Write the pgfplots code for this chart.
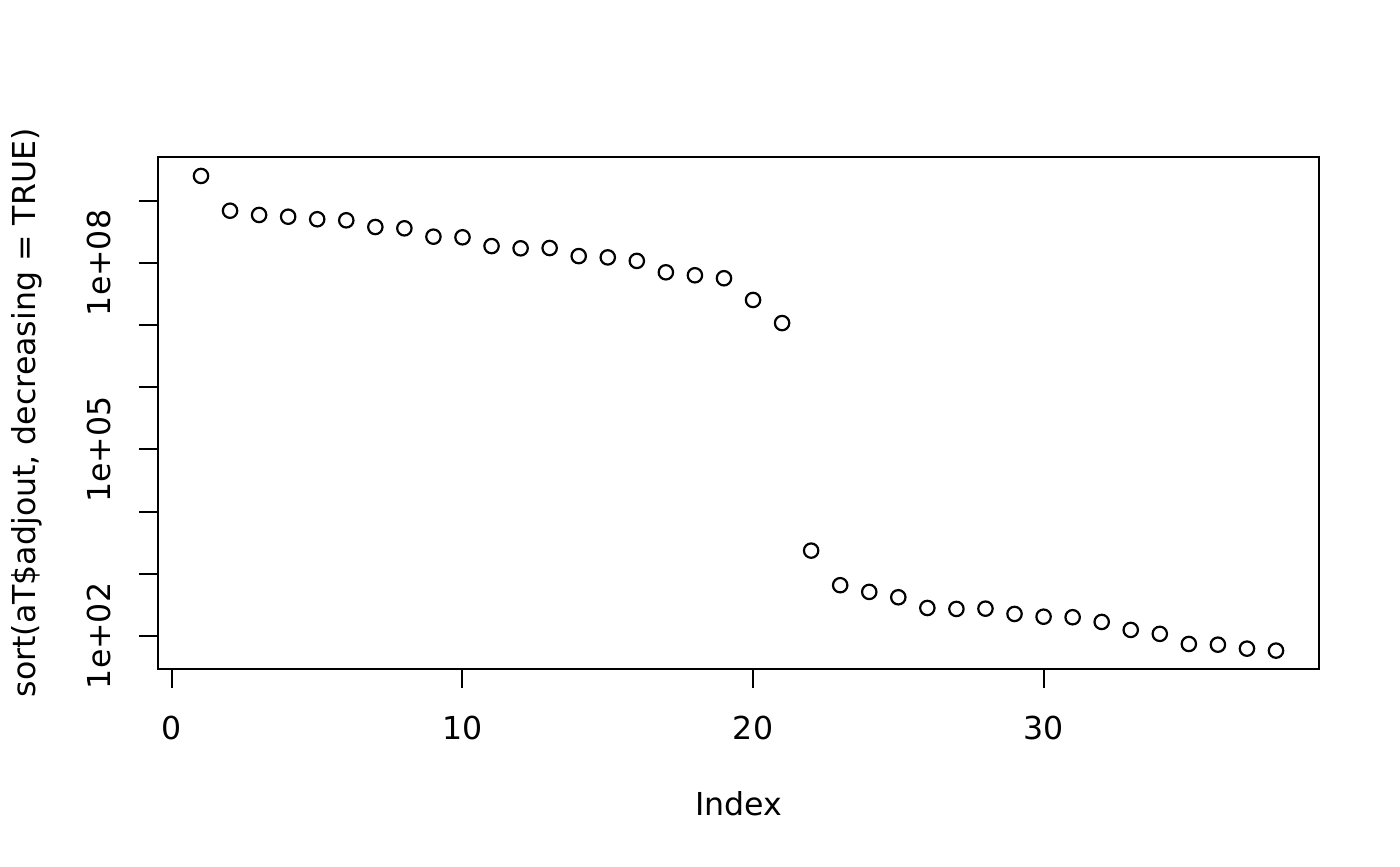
\documentclass[border=0pt]{standalone}
\usepackage{pgfplots}
\pgfplotsset{compat=1.18}
\usepackage{fontspec}
\setmainfont{DejaVu Sans}
\begin{document}
\fontsize{15.8}{18}\selectfont
\begin{tikzpicture}
\path[use as bounding box] (0,0) rectangle (700pt,433pt);
\begin{axis}[
  at={(79pt,98.5pt)},
  anchor=south west,
  scale only axis,
  width=580.5pt, height=256pt,
  ymode=log,
  xmin=-0.48, xmax=39.48,
  ymin=29.4, ymax=5.07e9,
  axis line style={line width=1pt},
  every tick/.style={black, line width=1pt},
  tick align=outside,
  major tick length=9.5pt,
  minor tick num=0,
  yminorticks=false,
  minor ytick={},
  tick pos=left,
  xtick={0,10,20,30},
  xticklabels={0,10,20,30},
  ytick={1e2,1e3,1e4,1e5,1e6,1e7,1e8,1e9},
  yticklabels={1e+02,,,1e+05,,,1e+08,},
  xticklabel style={anchor=north, inner sep=0pt},
  yticklabel style={rotate=90, anchor=south, inner sep=0pt},
  xticklabel shift=14pt,
  yticklabel shift=14pt,
  /pgf/number format/assume math mode=true,
  xlabel={Index},
  ylabel={sort(aT\$adjout, decreasing = TRUE)},
  xlabel style={at={(axis description cs:0.5,-0.2865)}, anchor=base, inner sep=0pt},
  ylabel style={at={(axis description cs:-0.10594,0.5)}, rotate=0, anchor=base, inner sep=0pt},
  clip=false,
]
\addplot[only marks, mark=o, mark size=3.6pt, mark options={line width=1.1pt, black}] coordinates {
(1,2.51e9) (2,6.93e8) (3,5.92e8) (4,5.55e8) (5,5.05e8) (6,4.86e8) (7,3.79e8) (8,3.61e8)
(9,2.65e8) (10,2.59e8) (11,1.87e8) (12,1.72e8) (13,1.74e8) (14,1.29e8) (15,1.23e8)
(16,1.08e8) (17,7.08e7) (18,6.34e7) (19,5.68e7) (20,2.54e7) (21,1.08e7)
(22,2.36e3) (23,655) (24,511) (25,419) (26,282) (27,272) (28,275) (29,226)
(30,204) (31,200) (32,168) (33,125) (34,108) (35,74.3) (36,72.4) (37,62.5) (38,58.1)
};
\end{axis}
\end{tikzpicture}
\end{document}
